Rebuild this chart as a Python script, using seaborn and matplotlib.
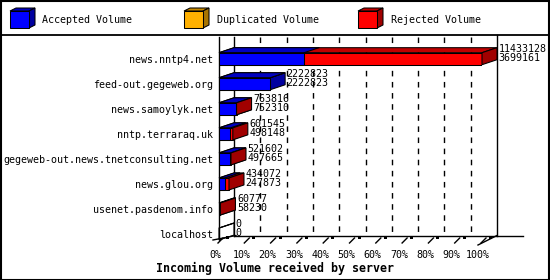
import numpy as np
import pandas as pd
import matplotlib
matplotlib.use("Agg")
import matplotlib.pyplot as plt
import seaborn as sns
from matplotlib.patches import Polygon, Rectangle
from matplotlib.lines import Line2D
from matplotlib.transforms import IdentityTransform, ScaledTranslation

# ---------------- data ----------------
servers = ["news.nntp4.net", "feed-out.gegeweb.org", "news.samoylyk.net",
           "nntp.terraraq.uk", "gegeweb-out.news.tnetconsulting.net",
           "news.glou.org", "usenet.pasdenom.info", "localhost"]
total_volume = [11433128, 2222823, 763816, 601545, 521602, 434072, 60777, 0]
accepted_volume = [3699161, 2222823, 752310, 498148, 497665, 247873, 58230, 0]
legend_labels = ["Accepted Volume", "Duplicated Volume", "Rejected Volume"]
tick_labels = ["0%", "10%", "20%", "30%", "40%", "50%", "60%", "70%", "80%", "90%", "100%"]
title = "Incoming Volume received by server"

# ---------------- style ----------------
W, H = 550, 280
FONT = "DejaVu Sans Mono"
BLUE, BLUE_TOP, BLUE_SIDE = "#0000ff", "#0000c0", "#0000a0"
RED, RED_TOP, RED_SIDE = "#ff0000", "#c00000", "#a00000"
ORANGE, ORANGE_TOP, ORANGE_SIDE = "#ffb000", "#c88a00", "#a87400"
DX, DY = 15, 5  # 3D depth in pixels

vmax = max(total_volume)
df = pd.DataFrame({
    "server": servers,
    "total": [v / vmax * 100 for v in total_volume],
    "accepted": [v / vmax * 100 for v in accepted_volume],
})

plt.rcParams["font.family"] = [FONT, "DejaVu Sans"]
fig = plt.figure(figsize=(W / 100, H / 100), dpi=100)
fig.patch.set_facecolor("white")

ax_left, ax_right = 219, 482
row0, row_step = 58.7, 25.05
ax_top = row0 - row_step / 2
ax_bot = row0 + 7.5 * row_step
ax = fig.add_axes([ax_left / W, (H - ax_bot) / H, (ax_right - ax_left) / W, (ax_bot - ax_top) / H])
ax.set_facecolor("none")

# rejected part: full bar behind, accepted bar drawn in front (stacked look)
sns.barplot(data=df, y="server", x="total", color=RED, saturation=1, width=0.48,
            edgecolor="black", linewidth=0.75, ax=ax, orient="h", zorder=2)
red_bars = list(ax.patches)
sns.barplot(data=df, y="server", x="accepted", color=BLUE, saturation=1, width=0.48,
            edgecolor="black", linewidth=0.75, ax=ax, orient="h", zorder=4)
blue_bars = [p for p in ax.patches if p not in red_bars]

ax.set_xlim(0, 100)
ax.set_ylim(7.5, -0.5)
ax.set_autoscale_on(False)
for s in ax.spines.values():
    s.set_visible(False)
ax.set_xlabel("")
ax.set_ylabel("")
ax.set_xticks(np.arange(0, 101, 10))
ax.set_xticklabels(tick_labels, fontsize=7.2, family=FONT)
ax.tick_params(axis="x", length=0, pad=2.5)
ax.tick_params(axis="y", length=0, pad=4.3, labelsize=7.2)
for lbl in ax.get_yticklabels():
    lbl.set_family(FONT)
for lbl in ax.get_xticklabels():
    lbl.set_transform(lbl.get_transform() + ScaledTranslation(-4 / 100, 0, fig.dpi_scale_trans))

ID = IdentityTransform()
td = ax.transData


def px(xd, yd):
    return td.transform((xd, yd))


def dy_pix(pix_from_top):
    return H - pix_from_top


def face_pts(bar):
    x0, y0 = bar.get_x(), bar.get_y()
    w, h = bar.get_width(), bar.get_height()
    L, T = px(x0, y0)
    R, B = px(x0 + w, y0 + h)
    top = [(L, T), (R, T), (R + DX, T + DY), (L + DX, T + DY)]
    side = [(R, T), (R, B), (R + DX, B + DY), (R + DX, T + DY)]
    return top, side


def add_face(pts, c, z):
    ax.add_patch(Polygon(pts, closed=True, facecolor=c, edgecolor="black",
                         linewidth=0.75, transform=ID, clip_on=False, zorder=z))


for i, (rb, bb) in enumerate(zip(red_bars, blue_bars)):
    rtop, rside = face_pts(rb)
    btop, bside = face_pts(bb)
    empty = total_volume[i] == 0
    add_face(bside, "none" if empty else BLUE_SIDE, 1.5)
    add_face(rtop, RED_TOP, 2.5)
    add_face(btop, BLUE_TOP, 3)
    if total_volume[i] > accepted_volume[i]:
        add_face(rside, RED_SIDE, 5)

# back wall, gridlines, floor
floor_back = dy_pix(235.5)
wall_top = dy_pix(37)
x0b = px(0, 0)[0] + DX
x100b = px(100, 0)[0] + DX
xf0 = px(0, 0)[0]
ax.add_line(Line2D([xf0, xf0], [wall_top, dy_pix(238)], color="black", lw=1, transform=ID, clip_on=False, zorder=1))
ax.add_line(Line2D([x0b, x0b], [wall_top, floor_back], color="black", lw=1, transform=ID, clip_on=False, zorder=1))
ax.add_line(Line2D([x100b, x100b], [dy_pix(35), floor_back], color="black", lw=1, transform=ID, clip_on=False, zorder=1))
for t in range(10, 100, 10):
    xb = px(t, 0)[0] + DX
    ax.add_line(Line2D([xb, xb], [wall_top, floor_back], color="black", lw=1, ls=(0, (4, 4)),
                       transform=ID, clip_on=False, zorder=1))
ax.add_line(Line2D([x0b, x100b + 26], [floor_back, floor_back], color="black", lw=1, transform=ID, clip_on=False, zorder=1))
ax.add_line(Line2D([xf0 - 6, x0b + 2], [dy_pix(240), floor_back], color="black", lw=1, transform=ID, clip_on=False, zorder=1))
ax.add_line(Line2D([px(100, 0)[0] - 4, x100b], [dy_pix(245), floor_back], color="black", lw=1, transform=ID, clip_on=False, zorder=1))
for t in range(0, 101, 10):
    xf = px(t, 0)[0]
    ax.add_line(Line2D([xf - 1, xf + 4], [dy_pix(243), dy_pix(238)], color="black", lw=1,
                       transform=ID, clip_on=False, zorder=1))
    ax.add_patch(Rectangle((xf + 7, dy_pix(239)), 3, 3, facecolor="black", edgecolor="none",
                           transform=ID, clip_on=False, zorder=1))

# value labels
for i, (rb, bb) in enumerate(zip(red_bars, blue_bars)):
    end = max(rb.get_width(), bb.get_width())
    cx, cy = px(end, i)
    ax.text(cx + DX + 1.5, cy + 10, f"{total_volume[i]}", transform=ID, fontsize=7.2, family=FONT,
            ha="left", va="center", clip_on=False, zorder=6)
    ax.text(cx + DX + 1.5, cy + 1, f"{accepted_volume[i]}", transform=ID, fontsize=7.2, family=FONT,
            ha="left", va="center", clip_on=False, zorder=6)

# title
fig.text(0.5, 1 - 268 / H, title, ha="center", va="center", fontsize=8.4, fontweight="bold", family=FONT)

# legend band
fig.add_artist(Line2D([0, 1], [1 - 35 / H, 1 - 35 / H], color="black", lw=1.3, transform=fig.transFigure))
fig.add_artist(Rectangle((0.5 / W, 0.5 / H), 1 - 1.5 / W, 1 - 1.5 / H, transform=fig.transFigure,
                         facecolor="none", edgecolor="black", lw=1.5))
legend_specs = [(10, 42, BLUE, BLUE_TOP, BLUE_SIDE), (184, 217, ORANGE, ORANGE_TOP, ORANGE_SIDE),
                (358, 391, RED, RED_TOP, RED_SIDE)]
for (bx, tx, fc, tc, sc), lab in zip(legend_specs, legend_labels):
    L, R = bx, bx + 19
    T, B = dy_pix(11), dy_pix(28)
    d, e = 6, 3
    for pts, c in (([(L, T), (R, T), (R + d, T + e), (L + d, T + e)], tc),
                   ([(R, T), (R, B), (R + d, B + e), (R + d, T + e)], sc),
                   ([(L, B), (R, B), (R, T), (L, T)], fc)):
        fig.add_artist(Polygon(pts, closed=True, facecolor=c, edgecolor="black", lw=0.75, transform=ID))
    fig.text(tx / W, 1 - 20 / H, lab, ha="left", va="center", fontsize=7.2, family=FONT)

fig.savefig("out.png", dpi=100)
